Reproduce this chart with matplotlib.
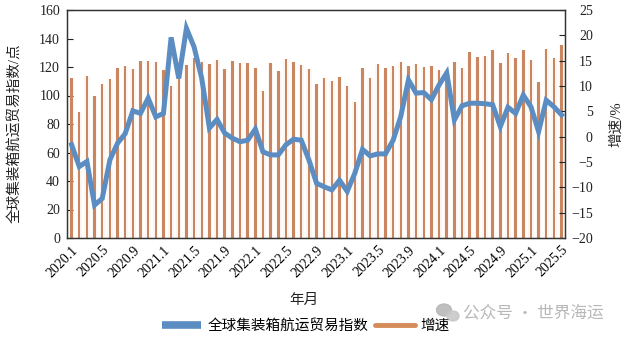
import matplotlib
matplotlib.use("Agg")
import matplotlib.pyplot as plt
from matplotlib.lines import Line2D
from matplotlib.patches import Ellipse
from matplotlib.transforms import IdentityTransform

# ---- data ----
years = [2020, 2021, 2022, 2023, 2024, 2025]
months = [f"{y}.{m}" for y in years for m in range(1, 13)][:65]   # 2020.1 .. 2025.5

bar_series = [112.1, 88.7, 113.7, 99.7, 108.1, 111.4, 119.5, 120.5, 118.4, 124.2,
              124.0, 123.8, 117.7, 106.7, 113.0, 121.4, 126.0, 123.8, 121.9, 124.9,
              118.8, 124.2, 123.0, 123.0, 119.5, 103.4, 122.6, 117.2, 125.9, 123.5,
              121.4, 118.6, 108.1, 112.1, 110.2, 112.8, 106.7, 95.7, 119.3, 112.6,
              122.3, 119.3, 120.7, 123.5, 120.5, 122.3, 120.0, 120.9, 117.9, 117.0,
              123.7, 119.0, 130.2, 127.2, 127.9, 131.7, 123.0, 129.5, 126.0, 131.7,
              125.1, 109.4, 132.4, 126.5, 135.4]

line_series = [-1.6, -5.9, -4.9, -13.5, -12.2, -4.6, -1.3, 0.6, 5.1, 4.6,
               7.6, 3.9, 4.6, 19.6, 11.5, 21.4, 17.7, 11.5, 1.7, 3.4,
               0.7, -0.3, -1.0, -0.7, 1.5, -3.0, -3.6, -3.6, -1.6, -0.5,
               -0.7, -4.6, -9.2, -9.9, -10.5, -8.6, -10.8, -7.2, -2.5, -3.8,
               -3.4, -3.4, -0.7, 4.0, 11.2, 8.6, 8.7, 7.3, 10.2, 12.6,
               3.3, 6.1, 6.6, 6.6, 6.5, 6.3, 2.0, 5.8, 4.6, 8.2,
               5.9, 1.0, 7.2, 5.9, 4.3]

left_ticks = list(range(0, 161, 20))
right_ticks = list(range(-20, 26, 5))
xtick_step = 4

legend_labels = ["全球集装箱航运贸易指数", "增速"]
ylabel_left = "全球集装箱航运贸易指数/点"
ylabel_right = "增速/%"
xlabel = "年月"
watermark = "公众号 · 世界海运"

# ---- style ----
FONT = ["Liberation Serif", "Noto Sans CJK SC"]
plt.rcParams["font.family"] = FONT
plt.rcParams["axes.unicode_minus"] = True

BAR_C = "#C98660"
BAR_HALO = "#FEF6F1"
LINE_C = "#5B8DC2"
SPINE_C = "#333333"

W, H = 627, 339
fig = plt.figure(figsize=(W / 100, H / 100), dpi=100)
L, R, T, B = 67, 565, 10, 238
ax = fig.add_axes([L / W, 1 - B / H, (R - L) / W, (B - T) / H])
ax2 = ax.twinx()

x = list(range(len(months)))
ax.bar(x, bar_series, width=0.7, color=BAR_HALO, zorder=1)
ax.bar(x, bar_series, width=0.32, color=BAR_C, zorder=2)
ax.set_ylim(0, 160)
ax.set_yticks(left_ticks)
ax.set_xlim(-0.6, 64.45)
ax.set_xticks(x[::xtick_step])
ax.set_xticklabels(months[::xtick_step], rotation=45, ha="right",
                   rotation_mode="anchor", fontsize=10)
ax.tick_params(axis="x", length=0, pad=4)
ax.tick_params(axis="y", direction="in", length=4, width=0.8, pad=5,
               labelsize=10, colors="#222222")

ax2.plot(x, line_series, color=LINE_C, lw=3.6, solid_joinstyle="miter", zorder=3)
ax2.set_ylim(-20, 25)
ax2.set_yticks(right_ticks)
ax2.tick_params(axis="y", direction="in", length=4, width=0.8, pad=20,
                labelsize=10, colors="#222222")
for lab in ax2.get_yticklabels():
    lab.set_horizontalalignment("right")

for a in (ax, ax2):
    for s in a.spines.values():
        s.set_color(SPINE_C)
        s.set_linewidth(0.9)

# labels
fig.text(14 / W, 1 - 133 / H, ylabel_left, rotation=90, ha="center", va="center",
         fontsize=10.5, color="#222222")
fig.text(616 / W, 1 - 124 / H, ylabel_right, rotation=90, ha="center", va="center",
         fontsize=10.5, color="#222222")
fig.text(304 / W, 1 - 300 / H, xlabel, ha="center", va="center", fontsize=10.5,
         color="#222222")

# legend
handles = [Line2D([0], [0], color=LINE_C, lw=5.5, solid_capstyle="butt"),
           Line2D([0], [0], color="#D68B5A", lw=3.5, solid_capstyle="round")]
fig.legend(handles, legend_labels, loc="center", bbox_to_anchor=(306 / W, 1 - 326 / H),
           ncol=2, frameon=False, fontsize=10.5, handlelength=2.7,
           handletextpad=0.4, columnspacing=0.5, borderpad=0)

# watermark
wm_c = "#B8B8B8"
fig.add_artist(Ellipse((444, H - 310), 15, 12, transform=IdentityTransform(),
                       color=wm_c, alpha=0.9))
fig.add_artist(Ellipse((453, H - 316), 12, 10, transform=IdentityTransform(),
                       color="#C8C8C8", alpha=0.9))
fig.text(463 / W, 1 - 313 / H, watermark, ha="left", va="center", fontsize=12,
         color=wm_c, family=["Noto Sans CJK SC", "DejaVu Sans"])

fig.savefig("out.png", dpi=100)
